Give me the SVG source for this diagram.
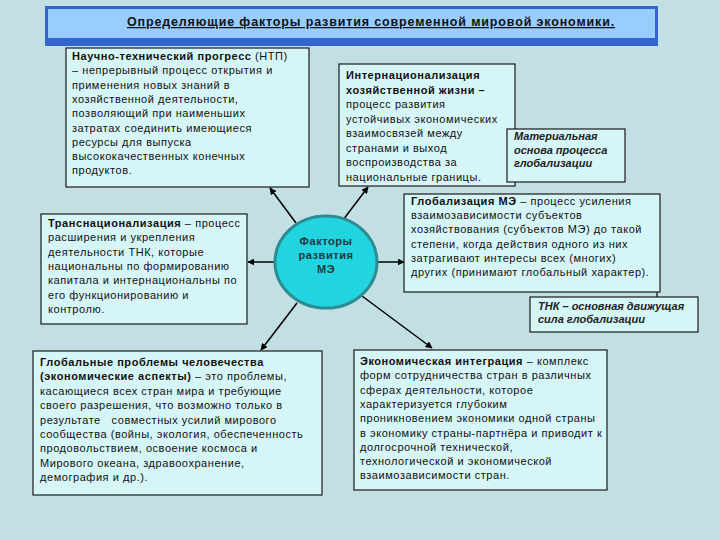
<svg xmlns="http://www.w3.org/2000/svg" width="720" height="540" viewBox="0 0 720 540">
<defs>
<marker id="ah" viewBox="0 0 10 10" refX="9" refY="5" markerWidth="7" markerHeight="7" orient="auto" markerUnits="userSpaceOnUse">
<path d="M0,0 L10,5 L0,10 z" fill="#000"/>
</marker>
<style>
.box{fill:#d6f5f7;stroke:#1a1a1a;stroke-width:1.2}
.t{font-family:"Liberation Sans",Arial,sans-serif;font-size:11px;fill:#111;letter-spacing:0.55px}
.b{font-weight:bold}
.i{font-style:italic;font-weight:bold;fill:#222;letter-spacing:0px}
.c{stroke:#000;stroke-width:1.5;fill:none;marker-end:url(#ah)}
</style>
</defs>
<rect x="0" y="0" width="720" height="540" fill="#c2dfe3"/>
<g id="title">
<rect x="45" y="6" width="613" height="40" fill="#3366cc"/>
<rect x="48" y="9" width="607" height="29" fill="#99ccff"/>
<text x="371" y="26" text-anchor="middle" class="t b" style="font-size:12.5px;text-decoration:underline;letter-spacing:0.85px">Определяющие факторы развития современной мировой экономики.</text>
</g>
<g id="connectors">
<line class="c" x1="296" y1="223" x2="270" y2="188"/>
<line class="c" x1="343" y1="220" x2="368" y2="187"/>
<line class="c" x1="275" y1="262" x2="248" y2="262"/>
<line class="c" x1="377" y1="262" x2="404" y2="262"/>
<line class="c" x1="297" y1="303" x2="261" y2="350"/>
<line class="c" x1="362" y1="296" x2="432" y2="348"/>
<line x1="657" y1="292" x2="657" y2="298" stroke="#000" stroke-width="1.2"/>
</g>
<g id="ntp">
<rect class="box" x="66" y="48" width="243" height="139"/>
<text class="t" x="72" y="60"><tspan class="b">Научно-технический прогресс</tspan> (НТП)</text>
<text class="t" x="72" y="74.3">– непрерывный процесс открытия и</text>
<text class="t" x="72" y="88.6">применения новых знаний в</text>
<text class="t" x="72" y="102.9">хозяйственной деятельности,</text>
<text class="t" x="72" y="117.2">позволяющий при наименьших</text>
<text class="t" x="72" y="131.5">затратах соединить имеющиеся</text>
<text class="t" x="72" y="145.8">ресурсы для выпуска</text>
<text class="t" x="72" y="160.1">высококачественных конечных</text>
<text class="t" x="72" y="174.4">продуктов.</text>
</g>
<g id="intern">
<rect class="box" x="339" y="64" width="176" height="122"/>
<text class="t b" x="346" y="79">Интернационализация</text>
<text class="t b" x="346" y="93.5">хозяйственной жизни –</text>
<text class="t" x="346" y="108">процесс развития</text>
<text class="t" x="346" y="122.5">устойчивых экономических</text>
<text class="t" x="346" y="137">взаимосвязей между</text>
<text class="t" x="346" y="151.5">странами и выход</text>
<text class="t" x="346" y="166">воспроизводства за</text>
<text class="t" x="346" y="180.5">национальные границы.</text>
</g>
<g id="material">
<rect class="box" x="507" y="129" width="118" height="53"/>
<text class="t i" x="514" y="140">Материальная</text>
<text class="t i" x="514" y="153.5">основа процесса</text>
<text class="t i" x="514" y="167">глобализации</text>
</g>
<g id="trans">
<rect class="box" x="41" y="214" width="206" height="110"/>
<text class="t" x="48" y="227"><tspan class="b">Транснационализация</tspan> – процесс</text>
<text class="t" x="48" y="241.3">расширения и укрепления</text>
<text class="t" x="48" y="255.6">деятельности ТНК, которые</text>
<text class="t" x="48" y="269.9">национальны по формированию</text>
<text class="t" x="48" y="284.2">капитала и интернациональны по</text>
<text class="t" x="48" y="298.5">его функционированию и</text>
<text class="t" x="48" y="312.8">контролю.</text>
</g>
<g id="center">
<ellipse cx="326" cy="262" rx="51" ry="46" fill="#22d3e0" stroke="#2b8c92" stroke-width="3"/>
<text class="t b" x="326" y="245" text-anchor="middle" style="fill:#1c3a3c">Факторы</text>
<text class="t b" x="326" y="259" text-anchor="middle" style="fill:#1c3a3c">развития</text>
<text class="t b" x="326" y="273" text-anchor="middle" style="fill:#1c3a3c">МЭ</text>
</g>
<g id="glob">
<rect class="box" x="404" y="194" width="256" height="98"/>
<text class="t" x="411" y="205"><tspan class="b">Глобализация МЭ</tspan> – процесс усиления</text>
<text class="t" x="411" y="219.2">взаимозависимости субъектов</text>
<text class="t" x="411" y="233.4">хозяйствования (субъектов МЭ) до такой</text>
<text class="t" x="411" y="247.6">степени, когда действия одного из них</text>
<text class="t" x="411" y="261.8">затрагивают интересы всех (многих)</text>
<text class="t" x="411" y="276">других (принимают глобальный характер).</text>
</g>
<g id="tnk">
<rect class="box" x="530" y="297" width="168" height="35"/>
<text class="t i" x="538" y="310">ТНК – основная движущая</text>
<text class="t i" x="538" y="323">сила глобализации</text>
</g>
<g id="global">
<rect class="box" x="33" y="351" width="289" height="144"/>
<text class="t" x="40" y="366"><tspan class="b">Глобальные проблемы человечества</tspan></text>
<text class="t" x="40" y="380.4"><tspan class="b">(экономические аспекты)</tspan> – это проблемы,</text>
<text class="t" x="40" y="394.8">касающиеся всех стран мира и требующие</text>
<text class="t" x="40" y="409.2">своего разрешения, что возможно только в</text>
<text class="t" x="40" y="423.6" xml:space="preserve">результате   совместных усилий мирового</text>
<text class="t" x="40" y="438">сообщества (войны, экология, обеспеченность</text>
<text class="t" x="40" y="452.4">продовольствием, освоение космоса и</text>
<text class="t" x="40" y="466.8">Мирового океана, здравоохранение,</text>
<text class="t" x="40" y="481.2">демография и др.).</text>
</g>
<g id="integr">
<rect class="box" x="354" y="350" width="253" height="140"/>
<text class="t" x="360" y="365"><tspan class="b">Экономическая интеграция</tspan> – комплекс</text>
<text class="t" x="360" y="379.3">форм сотрудничества стран в различных</text>
<text class="t" x="360" y="393.6">сферах деятельности, которое</text>
<text class="t" x="360" y="407.9">характеризуется глубоким</text>
<text class="t" x="360" y="422.2">проникновением экономики одной страны</text>
<text class="t" x="360" y="436.5">в экономику страны-партнёра и приводит к</text>
<text class="t" x="360" y="450.8">долгосрочной технической,</text>
<text class="t" x="360" y="465.1">технологической и экономической</text>
<text class="t" x="360" y="479.4">взаимозависимости стран.</text>
</g>
</svg>
